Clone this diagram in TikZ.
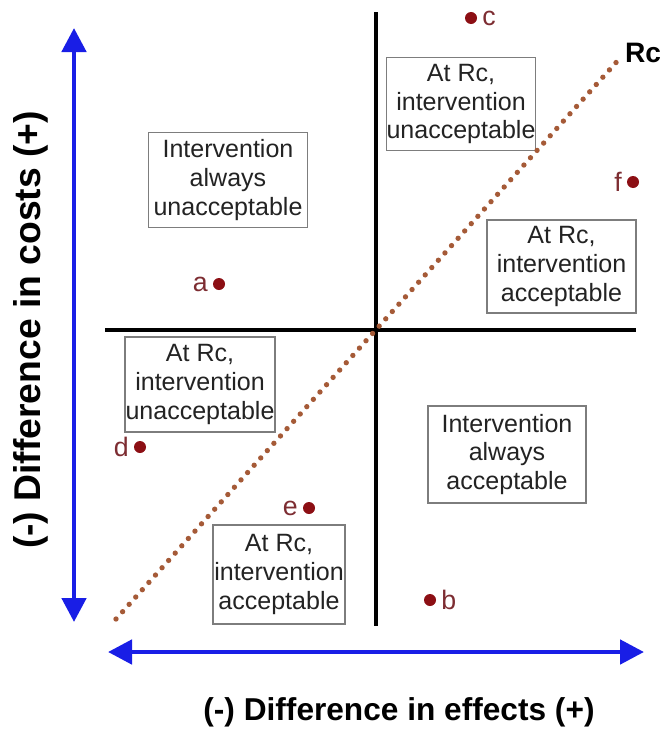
\documentclass[tikz,border=0pt]{standalone}
\usepackage{fontspec}
\setmainfont{Liberation Sans}
\usetikzlibrary{arrows.meta,positioning}
\definecolor{axisBlue}{RGB}{25,30,230}
\definecolor{dotRed}{RGB}{140,15,20}
\definecolor{labelRed}{RGB}{125,45,50}
\definecolor{rcBrown}{RGB}{165,90,55}
\definecolor{boxGray}{RGB}{125,125,125}
\definecolor{textGray}{RGB}{35,35,35}
\tikzset{
  quadbox/.style={draw=boxGray, line width=1pt, fill=white, align=center, text=textGray,
                  font=\fontsize{17.8}{20.6}\selectfont, inner sep=0pt},
  ptdot/.style={circle, fill=dotRed, inner sep=0pt, minimum size=3mm,
                label distance=1pt},
  ptlabel/.style={text=labelRed, font=\fontsize{19}{22}\selectfont},
  axisarrow/.style={{Triangle[length=6mm, width=6mm]}-{Triangle[length=6mm, width=6mm]},
                    line width=3.4pt, draw=axisBlue},
  quadline/.style={line width=2.2pt, draw=black},
  rcline/.style={draw=rcBrown, line width=3.8pt, line cap=round, dash pattern=on 0pt off 7pt}
}

\begin{document}
\begin{tikzpicture}[x=0.025cm, y=-0.025cm]
\useasboundingbox (0,0) rectangle (661,730);

% Axes
\coordinate (ybot) at (74,622);
\coordinate (ytop) at (74,28);
\coordinate (xleft) at (108,652);
\coordinate (xright) at (644,652);
\draw[axisarrow] (ybot) -- (ytop);
\draw[axisarrow] (xleft) -- (xright);
\node[font=\fontsize{26.5}{30}\selectfont\bfseries, rotate=90] (ylabel) at (31,330) {(-) Difference in costs (+)};
\node[font=\fontsize{22.5}{26}\selectfont\bfseries] (xlabel) at (399,712) {(-) Difference in effects (+)};

% Quadrant lines and threshold
\coordinate (vtop) at (376,12);
\coordinate (vbot) at (376,626);
\coordinate (hleft) at (105,330);
\coordinate (hright) at (636,330);
\coordinate (rcstart) at (116,619);
\coordinate (rcend) at (621,57);
\draw[quadline] (vtop) -- (vbot);
\draw[quadline] (hleft) -- (hright);

% Boxes
\node[quadbox, minimum width=3.975cm, minimum height=2.375cm] (alwaysno) at (228,180) {Intervention\\always\\unacceptable};
\node[quadbox, minimum width=3.7cm, minimum height=2.325cm] (rcno1) at (461,104) {At Rc,\\intervention\\unacceptable};
\node[quadbox, minimum width=3.725cm, minimum height=2.325cm] (rcyes1) at (561.5,266.5) {At Rc,\\intervention\\acceptable};
\node[quadbox, minimum width=3.75cm, minimum height=2.375cm] (rcno2) at (200,384.5) {At Rc,\\intervention\\unacceptable};
\node[quadbox, minimum width=3.95cm, minimum height=2.425cm] (alwaysyes) at (507,454.5) {Intervention\\always\\acceptable};
\node[quadbox, minimum width=3.3cm, minimum height=2.475cm] (rcyes2) at (279,574.5) {At Rc,\\intervention\\acceptable};

\draw[rcline] (rcstart) -- (rcend);
\node[font=\fontsize{20}{24}\selectfont\bfseries] (rclabel) at (643,53) {Rc};

% Points
\node[ptdot, label={[ptlabel]left:a}] (pa) at (219,284) {};
\node[ptdot, label={[ptlabel]right:b}] (pb) at (430,600) {};
\node[ptdot, label={[ptlabel]right:c}] (pc) at (471,18) {};
\node[ptdot, label={[ptlabel]left:d}] (pd) at (140,447) {};
\node[ptdot, label={[ptlabel]left:e}] (pe) at (309,508) {};
\node[ptdot, label={[ptlabel]left:f}] (pf) at (633,182) {};
\end{tikzpicture}
\end{document}
